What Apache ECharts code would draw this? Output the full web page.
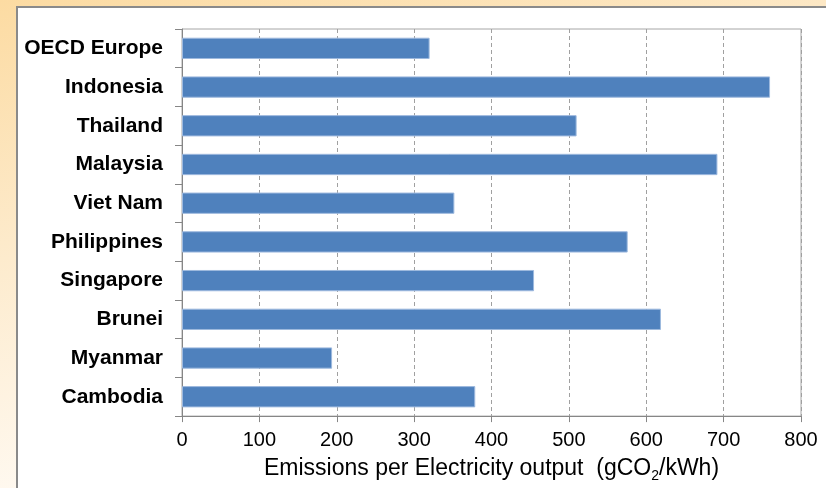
<!DOCTYPE html>
<html>
<head>
<meta charset="utf-8">
<script src="https://cdn.jsdelivr.net/npm/echarts@6/dist/echarts.min.js"></script>
<style>
html,body{margin:0;padding:0;background:#fff;}
#chart{width:826px;height:488px;}
</style>
</head>
<body>
<div id="chart"></div>
<script>
const categories = ['OECD Europe','Indonesia','Thailand','Malaysia','Viet Nam','Philippines','Singapore','Brunei','Myanmar','Cambodia'];
const values = [320, 760, 510, 692, 352, 576, 455, 619, 194, 379];
const xMin = 0, xMax = 800, xStep = 100;

const chart = echarts.init(document.getElementById('chart'), null, {renderer: 'canvas'});
chart.setOption({
  animation: false,
  backgroundColor: {
    type: 'linear', x: 0, y: 0, x2: 0.15, y2: 1,
    colorStops: [
      {offset: 0, color: '#FCDBA2'},
      {offset: 0.5, color: '#FDEBCD'},
      {offset: 1, color: '#FFFAF3'}
    ]
  },
  graphic: [{
    type: 'rect',
    silent: true,
    z: -100,
    shape: {x: 17, y: 7, width: 840, height: 500},
    style: {fill: '#ffffff', stroke: '#8a8a8a', lineWidth: 2}
  }],
  grid: {
    left: 182, right: 25, top: 29, bottom: 71,
    show: true, borderColor: '#a6a6a6', borderWidth: 1, backgroundColor: 'transparent'
  },
  xAxis: {
    type: 'value',
    min: xMin, max: xMax, interval: xStep,
    name: '{t|Emissions per Electricity output  (gCO}{s|2}{t|/kWh)}',
    nameLocation: 'middle',
    nameGap: 36,
    nameTextStyle: {
      rich: {
        t: {fontFamily: 'Liberation Sans, Arial', fontSize: 23, color: '#000', verticalAlign: 'middle', lineHeight: 26},
        s: {fontFamily: 'Liberation Sans, Arial', fontSize: 14, color: '#000', verticalAlign: 'middle', lineHeight: 26, padding: [14, 0, 0, 0]}
      }
    },
    axisLine: {show: true, lineStyle: {color: '#868686', width: 1}},
    axisTick: {show: true, length: 6, lineStyle: {color: '#868686'}},
    axisLabel: {fontFamily: 'Liberation Sans, Arial', fontSize: 20, color: '#000', margin: 14},
    splitLine: {show: true, lineStyle: {color: '#a0a0a0', type: [4, 3], width: 1}}
  },
  yAxis: {
    type: 'category',
    data: categories,
    inverse: true,
    axisLine: {show: true, lineStyle: {color: '#868686', width: 1}},
    axisTick: {show: true, length: 7, lineStyle: {color: '#868686'}},
    axisLabel: {fontFamily: 'Liberation Sans, Arial', fontSize: 21, fontWeight: 'bold', color: '#000', margin: 19},
    splitLine: {show: false}
  },
  series: [{
    type: 'bar',
    data: values,
    barWidth: '55%',
    itemStyle: {color: '#4F81BD', borderColor: '#9DB9DE', borderWidth: 1}
  }]
});
</script>
</body>
</html>
